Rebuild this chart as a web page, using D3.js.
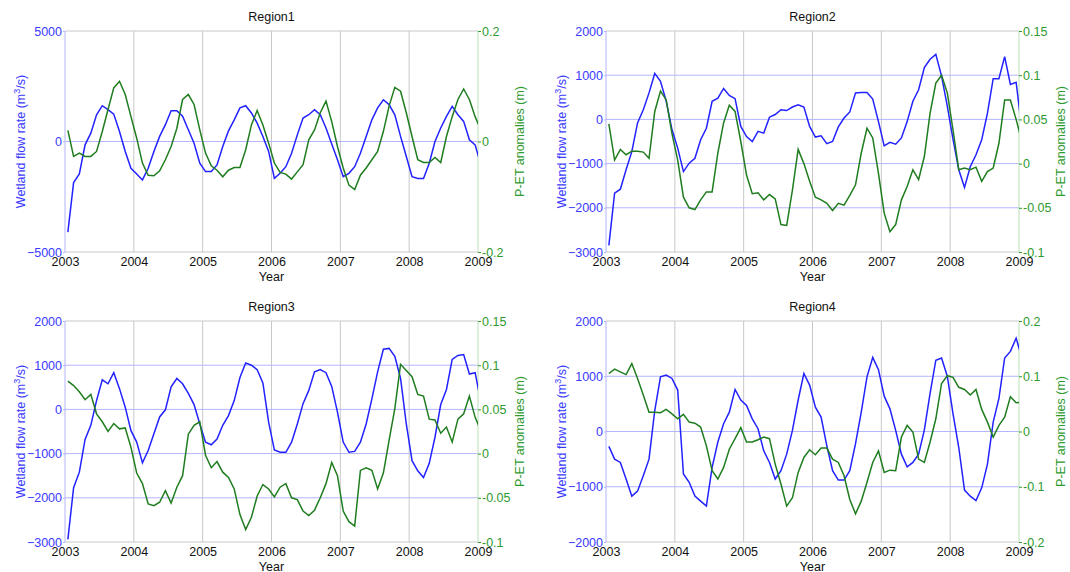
<!DOCTYPE html>
<html>
<head>
<meta charset="utf-8">
<script src="https://cdn.jsdelivr.net/npm/d3@7"></script>
<style>
  body { margin: 0; background: #fff; }
  svg { display: block; font-family: "Liberation Sans", Arial, sans-serif; }
</style>
</head>
<body>
<script>
// monthly series, Jan 2003 .. Jan 2009 (mid-month points)
var startYear = 2003;
var yearTicks = [2003, 2004, 2005, 2006, 2007, 2008, 2009];
var regionNames = ['Region1', 'Region2', 'Region3', 'Region4'];

var flow1 = [-4100, -1860, -1470, -150, 380, 1210, 1620, 1440, 1240, 450, -450, -1210,
  -1470, -1740, -1210, -450, 230, 760, 1390, 1390, 1140, 530, -80, -980,
  -1360, -1360, -1060, -230, 480, 980, 1520, 1620, 1290, 830, 230, -450,
  -1670, -1440, -1140, -530, 300, 1060, 1210, 1440, 1210, 610, -110, -830,
  -1590, -1440, -1140, -530, 230, 980, 1520, 1890, 1670, 1210, 230, -680,
  -1590, -1670, -1670, -980, 0, 610, 1140, 1590, 1210, 910, 80, -150, -1060];
var pet1 = [0.02, -0.027, -0.021, -0.027, -0.027, -0.018, 0.018, 0.058, 0.097, 0.109, 0.085, 0.045,
  0.006, -0.039, -0.061, -0.062, -0.053, -0.033, -0.009, 0.024, 0.076, 0.085, 0.067, 0.021,
  -0.021, -0.044, -0.052, -0.064, -0.052, -0.047, -0.047, -0.015, 0.030, 0.056, 0.030, -0.003,
  -0.039, -0.056, -0.059, -0.068, -0.055, -0.042, 0.003, 0.021, 0.052, 0.073, 0.036, -0.009,
  -0.048, -0.079, -0.087, -0.061, -0.048, -0.033, -0.018, 0.018, 0.064, 0.098, 0.091, 0.052,
  0.009, -0.033, -0.038, -0.038, -0.029, -0.038, 0.009, 0.045, 0.076, 0.095, 0.076, 0.045, 0.021];

var flow2 = [-2850, -1670, -1580, -1140, -730, -80, 220, 600, 1040, 860, 410, -230,
  -650, -1180, -990, -880, -460, -200, 410, 480, 700, 540, 470, -160,
  -390, -500, -270, -310, 50, 110, 220, 200, 280, 330, 280, -160,
  -400, -370, -550, -500, -170, 30, 170, 600, 610, 610, 460, -50,
  -600, -520, -560, -420, -50, 410, 670, 1170, 1360, 1470, 980, 300,
  -450, -1140, -1540, -1070, -800, -460, 140, 920, 920, 1420, 790, 840, -230];
var pet2 = [0.045, 0.004, 0.016, 0.010, 0.014, 0.014, 0.013, 0.006, 0.059, 0.082, 0.072, 0.034,
  0.004, -0.038, -0.050, -0.052, -0.041, -0.032, -0.032, 0.012, 0.046, 0.066, 0.059, 0.025,
  -0.013, -0.034, -0.033, -0.041, -0.035, -0.040, -0.069, -0.070, -0.030, 0.016, 0.000, -0.020,
  -0.038, -0.041, -0.045, -0.053, -0.045, -0.047, -0.036, -0.024, 0.012, 0.040, 0.029, -0.011,
  -0.056, -0.077, -0.069, -0.041, -0.026, -0.007, -0.018, 0.008, 0.057, 0.091, 0.100, 0.080,
  0.038, -0.007, -0.005, -0.007, -0.004, -0.020, -0.009, -0.005, 0.023, 0.072, 0.072, 0.050, 0.025];

var flow3 = [-2940, -1770, -1420, -680, -360, 200, 670, 580, 830, 470, 50, -480,
  -740, -1210, -930, -550, -170, -10, 510, 700, 580, 360, 110, -330,
  -740, -800, -670, -360, -140, 200, 720, 1050, 1000, 900, 600, -290,
  -920, -970, -970, -740, -330, 130, 430, 850, 900, 830, 520, -60,
  -740, -970, -950, -740, -330, 240, 850, 1360, 1380, 1200, 700, -330,
  -1160, -1390, -1540, -1220, -630, 110, 450, 1130, 1220, 1240, 800, 830, 170];
var pet3 = [0.082, 0.077, 0.070, 0.061, 0.067, 0.045, 0.036, 0.025, 0.034, 0.028, 0.029, 0.007,
  -0.022, -0.034, -0.057, -0.059, -0.055, -0.042, -0.056, -0.038, -0.025, 0.022, 0.032, 0.036,
  -0.002, -0.016, -0.009, -0.021, -0.027, -0.040, -0.069, -0.086, -0.072, -0.048, -0.035, -0.040,
  -0.049, -0.038, -0.034, -0.050, -0.052, -0.065, -0.070, -0.064, -0.050, -0.034, -0.010, -0.025,
  -0.065, -0.077, -0.082, -0.019, -0.016, -0.019, -0.040, -0.022, 0.015, 0.051, 0.101, 0.094,
  0.087, 0.067, 0.065, 0.039, 0.038, 0.023, 0.030, 0.013, 0.039, 0.045, 0.065, 0.041, 0.026];

var flow4 = [-270, -500, -560, -860, -1170, -1080, -800, -500, 380, 990, 1020, 960,
  750, -770, -920, -1170, -1260, -1350, -650, -190, 140, 350, 760, 570,
  470, 230, 50, -350, -560, -860, -710, -410, 20, 570, 1050, 840,
  440, 260, -260, -710, -880, -880, -710, -220, 350, 990, 1340, 1120,
  640, 410, 20, -410, -640, -560, -410, 30, 690, 1290, 1330, 1000,
  320, -290, -1060, -1170, -1250, -1020, -590, 170, 600, 1330, 1450, 1690, 1330];
var pet4 = [0.105, 0.113, 0.108, 0.103, 0.123, 0.096, 0.066, 0.035, 0.035, 0.034, 0.040, 0.032,
  0.023, 0.031, 0.017, 0.015, 0.008, -0.026, -0.071, -0.086, -0.065, -0.032, -0.013, 0.007,
  -0.019, -0.019, -0.015, -0.010, -0.013, -0.059, -0.095, -0.135, -0.120, -0.074, -0.047, -0.033,
  -0.042, -0.030, -0.030, -0.050, -0.056, -0.080, -0.123, -0.149, -0.126, -0.092, -0.056, -0.035,
  -0.074, -0.070, -0.071, -0.010, 0.011, -0.001, -0.050, -0.056, -0.019, 0.023, 0.087, 0.101,
  0.098, 0.080, 0.076, 0.066, 0.076, 0.040, 0.017, -0.010, 0.011, 0.026, 0.063, 0.052, 0.053];

var flowSeries = [flow1, flow2, flow3, flow4];
var petSeries = [pet1, pet2, pet3, pet4];
var flowDomains = [[-5000, 5000], [-3000, 2000], [-3000, 2000], [-2000, 2000]];
var petDomains = [[-0.2, 0.2], [-0.1, 0.15], [-0.1, 0.15], [-0.2, 0.2]];
var flowTicks = [[-5000, 0, 5000],
  [-3000, -2000, -1000, 0, 1000, 2000],
  [-3000, -2000, -1000, 0, 1000, 2000],
  [-2000, -1000, 0, 1000, 2000]];
var petTicks = [[-0.2, 0, 0.2],
  [-0.1, -0.05, 0, 0.05, 0.1, 0.15],
  [-0.1, -0.05, 0, 0.05, 0.1, 0.15],
  [-0.2, -0.1, 0, 0.1, 0.2]];

var W = 1070, H = 572;
var panels = [
  {left: 65, top: 31, width: 413, height: 221},
  {left: 606, top: 31, width: 413, height: 221},
  {left: 65, top: 321, width: 413, height: 221},
  {left: 606, top: 321, width: 413, height: 221}
];

var blue = '#2222ff', blueText = '#3a3aff', blueGrid = '#b4b4ff';
var green = '#1f7d1f', greenText = '#2f9a2f', greenAxis = '#b8e0b8';
var grey = '#c8c8c8';

var svg = d3.select('body').append('svg')
  .attr('width', W)
  .attr('height', H);

var drawPanel = function(k) {
  var p = panels[k];
  var g = svg.append('g').attr('transform', 'translate(' + p.left + ',' + p.top + ')');

  var x = d3.scaleLinear().domain([2003, 2009]).range([0, p.width]);
  var yL = d3.scaleLinear().domain(flowDomains[k]).range([p.height, 0]);
  var yR = d3.scaleLinear().domain(petDomains[k]).range([p.height, 0]);

  // grid: year lines grey, flow ticks blue
  g.selectAll('.vgrid').data(yearTicks.slice(1, -1)).enter().append('line')
    .attr('x1', function(d) { return x(d); }).attr('x2', function(d) { return x(d); })
    .attr('y1', 0).attr('y2', p.height)
    .attr('stroke', grey).attr('stroke-width', 1);
  g.selectAll('.hgrid').data(flowTicks[k].slice(1, -1)).enter().append('line')
    .attr('x1', 0).attr('x2', p.width)
    .attr('y1', function(d) { return yL(d); }).attr('y2', function(d) { return yL(d); })
    .attr('stroke', blueGrid).attr('stroke-width', 1);

  // frame
  g.append('line').attr('x1', 0).attr('x2', p.width).attr('y1', 0).attr('y2', 0).attr('stroke', grey);
  g.append('line').attr('x1', 0).attr('x2', p.width).attr('y1', p.height).attr('y2', p.height).attr('stroke', grey);
  g.append('line').attr('x1', 0).attr('x2', 0).attr('y1', 0).attr('y2', p.height).attr('stroke', blueGrid);
  g.append('line').attr('x1', p.width).attr('x2', p.width).attr('y1', 0).attr('y2', p.height).attr('stroke', greenAxis);

  // axes
  var leftAxis = g.append('g')
    .call(d3.axisLeft(yL).tickValues(flowTicks[k]).tickSize(2).tickPadding(1).tickFormat(d3.format('d')));
  leftAxis.select('.domain').remove();
  leftAxis.selectAll('line').attr('stroke', blueGrid);
  leftAxis.selectAll('text').attr('fill', blueText).style('font-size', '12.5px');

  var rightAxis = g.append('g').attr('transform', 'translate(' + p.width + ',0)')
    .call(d3.axisRight(yR).tickValues(petTicks[k]).tickSize(3).tickPadding(1).tickFormat(function(d) { return String(+d.toFixed(2)); }));
  rightAxis.select('.domain').remove();
  rightAxis.selectAll('line').attr('stroke', greenText);
  rightAxis.selectAll('text').attr('fill', greenText).style('font-size', '12.5px');

  var bottomAxis = g.append('g').attr('transform', 'translate(0,' + p.height + ')')
    .call(d3.axisBottom(x).tickValues(yearTicks).tickSize(0).tickPadding(5).tickFormat(d3.format('d')));
  bottomAxis.select('.domain').remove();
  bottomAxis.selectAll('text').attr('fill', '#111').style('font-size', '12.5px');

  // lines
  var clipId = 'clip' + k;
  g.append('clipPath').attr('id', clipId).append('rect')
    .attr('width', p.width).attr('height', p.height);

  var date = function(i) { return startYear + (i + 0.5) / 12; };
  var flowLine = d3.line().x(function(d, i) { return x(date(i)); }).y(function(d) { return yL(d); });
  var petLine = d3.line().x(function(d, i) { return x(date(i)); }).y(function(d) { return yR(d); });

  g.append('path').datum(flowSeries[k])
    .attr('clip-path', 'url(#' + clipId + ')')
    .attr('d', flowLine).attr('fill', 'none').attr('stroke', blue).attr('stroke-width', 1.5);
  g.append('path').datum(petSeries[k])
    .attr('clip-path', 'url(#' + clipId + ')')
    .attr('d', petLine).attr('fill', 'none').attr('stroke', green).attr('stroke-width', 1.5);

  // titles and labels
  g.append('text').attr('x', p.width / 2).attr('y', -10)
    .attr('text-anchor', 'middle').style('font-size', '12.5px').attr('fill', '#111')
    .text(regionNames[k]);
  g.append('text').attr('x', p.width / 2).attr('y', p.height + 29)
    .attr('text-anchor', 'middle').style('font-size', '12.5px').attr('fill', '#111')
    .text('Year');

  var yl = g.append('text')
    .attr('transform', 'translate(-40,' + (p.height / 2) + ') rotate(-90)')
    .attr('text-anchor', 'middle').style('font-size', '12.5px').attr('fill', blueText);
  yl.append('tspan').text('Wetland flow rate (m');
  yl.append('tspan').attr('dy', -5).style('font-size', '9px').text('3');
  yl.append('tspan').attr('dy', 5).text('/s)');

  g.append('text')
    .attr('transform', 'translate(' + (p.width + 46) + ',' + (p.height / 2) + ') rotate(-90)')
    .attr('text-anchor', 'middle').style('font-size', '12.5px').attr('fill', greenText)
    .text('P-ET anomalies (m)');
};

for (var k = 0; k < 4; k++) {
  drawPanel(k);
}
</script>
</body>
</html>
